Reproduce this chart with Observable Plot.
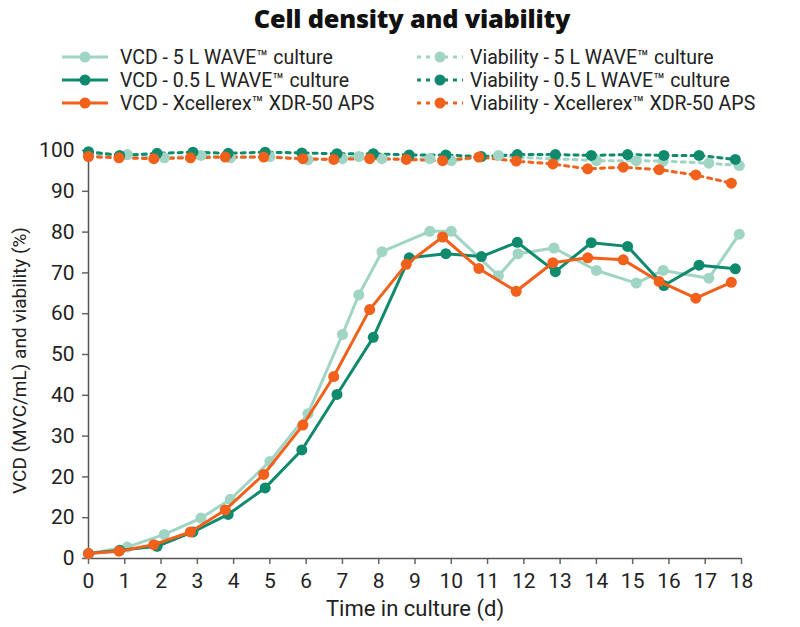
<!DOCTYPE html>
<html>
<head>
<meta charset="utf-8">
<script src="https://cdn.jsdelivr.net/npm/d3@7"></script>
<script src="https://cdn.jsdelivr.net/npm/@observablehq/plot@0.6"></script>
<style>
  html, body { margin: 0; padding: 0; background: #fff; }
  body { width: 800px; font-family: Roboto, "Noto Sans", sans-serif; color: #222; }
  #title { height: 36px; line-height: 36px; text-align: center; padding-left: 24px; box-sizing: border-box; font-family: "Open Sans", Roboto, sans-serif; font-weight: 800; font-size: 25.3px; color: #111; letter-spacing: -0.2px; }
  #legend { position: relative; height: 82px; }
  .item { position: absolute; height: 23px; display: flex; align-items: center; font-size: 19.5px; white-space: nowrap; color: #222; }
  .item svg { flex: none; }
  #chart svg { display: block; }
</style>
</head>
<body>
<div id="title">Cell density and viability</div>
<div id="legend"></div>
<div id="chart"></div>
<script>
// ---- data ----
const seriesNames = ["5 L WAVE™ culture", "0.5 L WAVE™ culture", "Xcellerex™ XDR-50 APS"];
const seriesColors = ["#a0d4c5", "#0f8a6d", "#f1611b"];

const days5L = [0, 1.07, 2.09, 3.1, 3.91, 5.0, 6.05, 7.0, 7.45, 8.09, 9.41, 10.0, 11.3, 11.84, 12.83, 14.0, 15.1, 15.84, 17.1, 17.94];
const vcd5L  = [1.2, 2.8, 5.9, 9.9, 14.5, 23.8, 35.5, 54.9, 64.6, 75.2, 80.2, 80.2, 69.3, 74.7, 76.1, 70.6, 67.5, 70.6, 68.7, 79.5];
const via5L  = [99.0, 99.0, 98.2, 98.8, 98.2, 98.5, 97.7, 98.0, 98.5, 98.0, 98.0, 97.5, 98.8, 98.3, 98.0, 97.5, 97.5, 97.4, 96.9, 96.3];

const days05L = [0, 0.86, 1.89, 2.88, 3.85, 4.87, 5.88, 6.85, 7.85, 8.84, 9.85, 10.83, 11.82, 12.87, 13.86, 14.86, 15.86, 16.83, 17.83];
const vcd05L  = [1.2, 2.0, 3.0, 6.5, 10.8, 17.3, 26.6, 40.2, 54.2, 73.7, 74.7, 74.0, 77.5, 70.3, 77.4, 76.5, 66.9, 71.9, 71.0];
const via05L  = [99.7, 98.8, 99.3, 99.6, 99.3, 99.6, 99.4, 99.2, 99.2, 98.9, 98.9, 98.5, 99.0, 99.0, 98.8, 99.0, 98.8, 98.8, 97.8];

const daysXdr = [0, 0.84, 1.8, 2.81, 3.77, 4.83, 5.91, 6.76, 7.75, 8.76, 9.76, 10.76, 11.79, 12.8, 13.76, 14.74, 15.73, 16.74, 17.72];
const vcdXdr  = [1.2, 1.8, 3.4, 6.5, 11.9, 20.6, 32.7, 44.6, 61.0, 72.1, 78.8, 71.1, 65.5, 72.5, 73.7, 73.2, 67.9, 63.8, 67.7];
const viaXdr  = [98.5, 98.2, 98.0, 98.2, 98.4, 98.4, 98.0, 97.8, 98.0, 97.8, 97.5, 98.4, 97.4, 96.7, 95.5, 95.9, 95.3, 94.0, 92.0];

const xTicks = [0,1,2,3,4,5,6,7,8,9,10,11,12,13,14,15,16,17,18];
const yTicks = [0,10,20,30,40,50,60,70,80,90,100];
const yTickLabels = ["0","20","20","30","40","50","60","70","80","90","100"];
const xLabel = "Time in culture (d)";
const yLabel = "VCD (MVC/mL) and viability (%)";

// ---- build tables ----
const raw = [[days5L, vcd5L, via5L], [days05L, vcd05L, via05L], [daysXdr, vcdXdr, viaXdr]];
const tables = raw.map(([d, v, w], s) => d.map((day, i) => ({series: seriesNames[s], day, vcd: v[i], via: w[i]})));

// ---- legend ----
const legend = document.getElementById("legend");
const legendItems = [];
seriesNames.forEach((n, i) => legendItems.push({label: "VCD - " + n, color: seriesColors[i], dashed: false, col: 0, row: i}));
seriesNames.forEach((n, i) => legendItems.push({label: "Viability - " + n, color: seriesColors[i], dashed: true, col: 1, row: i}));
const colLeft = [62, 417];
const colGap = [12, 7];
legendItems.forEach(it => {
  const div = document.createElement("div");
  div.className = "item";
  div.style.left = colLeft[it.col] + "px";
  div.style.top = (9.5 + it.row * 23) + "px";
  div.innerHTML = `<svg width="46" height="14" viewBox="0 0 46 14" style="margin-right:${colGap[it.col]}px">
    <line x1="0" x2="46" y1="7" y2="7" stroke="${it.color}" stroke-width="3" ${it.dashed ? 'stroke-dasharray="4,5"' : ''}/>
    <circle cx="23" cy="7" r="5.5" fill="${it.color}"/></svg><span>${it.label}</span>`;
  legend.appendChild(div);
});

// ---- chart ----
const marks = [];
tables.forEach((t, s) => {
  marks.push(Plot.line(t, {x: "day", y: "via", stroke: seriesColors[s], strokeWidth: 3, strokeDasharray: "4,5"}));
});
tables.forEach((t, s) => {
  marks.push(Plot.line(t, {x: "day", y: "vcd", stroke: seriesColors[s], strokeWidth: 3}));
  marks.push(Plot.dot(t, {x: "day", y: "vcd", r: 5.5, fill: seriesColors[s]}));
});
tables.forEach((t, s) => {
  marks.push(Plot.dot(t, {x: "day", y: "via", r: 5.5, fill: seriesColors[s]}));
});

const chart = Plot.plot({
  width: 800,
  height: 509,
  marginLeft: 88,
  marginRight: 59,
  marginTop: 32,
  marginBottom: 69,
  style: {fontFamily: "Roboto, 'Noto Sans', sans-serif", color: "#222", background: "#fff"},
  x: {domain: [0, 18]},
  y: {domain: [0, 100]},
  marks: [
    Plot.axisX({ticks: xTicks, tickFormat: d => String(d), tickSize: 6, tickPadding: 9, fontSize: 21, stroke: "#666", strokeWidth: 1.5, label: null}),
    Plot.axisY({ticks: yTicks, tickFormat: d => yTickLabels[yTicks.indexOf(d)], tickSize: 6, tickPadding: 8, fontSize: 21, stroke: "#666", strokeWidth: 1.5, label: null}),
    Plot.text([xLabel], {text: d => d, frameAnchor: "bottom", dy: 50, fontSize: 22, fill: "#222", lineAnchor: "middle", textAnchor: "middle"}),
    Plot.text([yLabel], {text: d => d, frameAnchor: "left", dx: -69, dy: 6, rotate: -90, fontSize: 19, fill: "#222", lineAnchor: "middle", textAnchor: "middle"}),
    Plot.ruleX([0], {stroke: "#555", strokeWidth: 1.5}),
    Plot.ruleY([0], {stroke: "#555", strokeWidth: 1.5}),
    ...marks
  ]
});
document.getElementById("chart").appendChild(chart);
</script>
</body>
</html>
